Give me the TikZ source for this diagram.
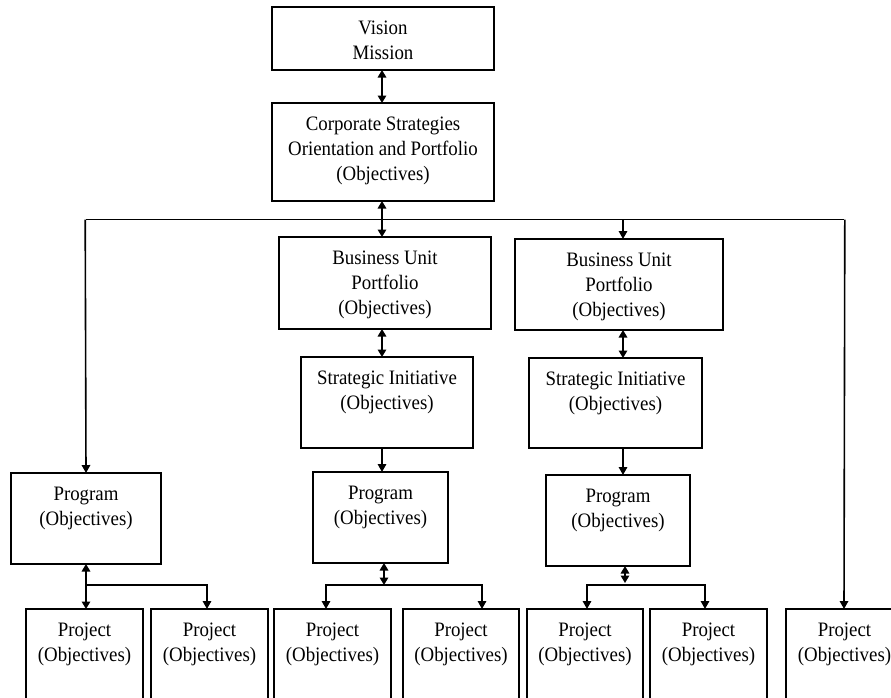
\documentclass[tikz,border=0pt]{standalone}
\usepackage{fontspec}
\setmainfont{Liberation Serif}[FakeStretch=0.92]
\usetikzlibrary{arrows.meta}
\newcommand{\bxt}[3]{\parbox[c][#2pt][t]{#1pt}{\centering\fontsize{20.5}{25}\selectfont\vspace*{9.5pt}\strut #3}}
\begin{document}
\begin{tikzpicture}[x=1pt,y=-1pt,
  box/.style={draw, line width=1.5pt, inner sep=0pt, outer sep=0pt, fill=white},
  conn/.style={line width=1.6pt},
  arr/.style={conn, -{Triangle[length=8pt,width=8.5pt]}},
  dbl/.style={conn, {Triangle[length=7.5pt,width=8.5pt]}-{Triangle[length=7.5pt,width=8.5pt]}}]
\useasboundingbox (0,0) rectangle (891,697);
\clip (0,0) rectangle (891,697);
% boxes
\node[box] (vm) at (383,38.5) {\bxt{222}{63}{Vision\\Mission}};
\node[box] (cs) at (383,152) {\bxt{222}{98}{Corporate Strategies\\Orientation and Portfolio\\(Objectives)}};
\node[box] (bu1) at (385,283) {\bxt{212}{92}{Business Unit\\Portfolio\\(Objectives)}};
\node[box] (bu2) at (619,284.5) {\bxt{208}{91}{Business Unit\\Portfolio\\(Objectives)}};
\node[box] (si1) at (387,402.5) {\bxt{172}{91}{Strategic Initiative\\(Objectives)}};
\node[box] (si2) at (615.5,403) {\bxt{173}{90}{Strategic Initiative\\(Objectives)}};
\node[box] (pg1) at (86,518.5) {\bxt{150}{91}{Program\\(Objectives)}};
\node[box] (pg2) at (380.5,517.5) {\bxt{135}{91}{Program\\(Objectives)}};
\node[box] (pg3) at (618,520.5) {\bxt{144}{91}{Program\\(Objectives)}};
\node[box] (pj1) at (84.5,659) {\bxt{117}{100}{Project\\(Objectives)}};
\node[box] (pj2) at (209.5,659) {\bxt{117}{100}{Project\\(Objectives)}};
\node[box] (pj3) at (332.5,659) {\bxt{117}{100}{Project\\(Objectives)}};
\node[box] (pj4) at (461,659) {\bxt{116}{100}{Project\\(Objectives)}};
\node[box] (pj5) at (585,659) {\bxt{116}{100}{Project\\(Objectives)}};
\node[box] (pj6) at (708.5,659) {\bxt{117}{100}{Project\\(Objectives)}};
\node[box] (pj7) at (844.5,659) {\bxt{117}{100}{Project\\(Objectives)}};
% guide coordinates
\coordinate (xa) at (382,0);
\coordinate (xb) at (623,0);
\coordinate (xl) at (86,0);
\coordinate (xr) at (844,0);
\coordinate (bus) at (0,219.5);
\coordinate (bar) at (0,585);
\coordinate (x2) at (384,0);
\coordinate (x3) at (625,0);
\coordinate (t2) at (207,0);
\coordinate (t3) at (326,0);
\coordinate (t4) at (482,0);
\coordinate (t5) at (587,0);
\coordinate (t6) at (705,0);
% top chain
\draw[dbl] (vm.south -| xa) -- (cs.north -| xa);
\draw[dbl] (cs.south -| xa) -- (bu1.north -| xa);
\draw[conn] (bus -| xl) -- (bus -| xr);
\draw[arr] ([xshift=-0.8pt]bus -| xl) -- (pg1.north -| xl);
\draw[arr] ([xshift=0.8pt]bus -| xr) -- (pj7.north -| xr);
\draw[arr] (bus -| xb) -- (bu2.north -| xb);
\draw[dbl] (bu1.south -| xa) -- (si1.north -| xa);
\draw[dbl] (bu2.south -| xb) -- (si2.north -| xb);
\draw[arr] (si1.south -| xa) -- (pg2.north -| xa);
\draw[arr] (si2.south -| xb) -- (pg3.north -| xb);
% branches
\draw[dbl] (pg1.south -| xl) -- (pj1.north -| xl);
\draw[arr] (bar -| xl) -| (pj2.north -| t2);
\draw[dbl] (pg2.south -| x2) -- (bar -| x2);
\draw[arr] (bar -| x2) -| (pj3.north -| t3);
\draw[arr] (bar -| x2) -| (pj4.north -| t4);
\draw[dbl] (pg3.south -| x3) -- ([yshift=2pt]bar -| x3);
\draw[arr] (bar -| x3) -| (pj5.north -| t5);
\draw[arr] (bar -| x3) -| (pj6.north -| t6);
\end{tikzpicture}
\end{document}
